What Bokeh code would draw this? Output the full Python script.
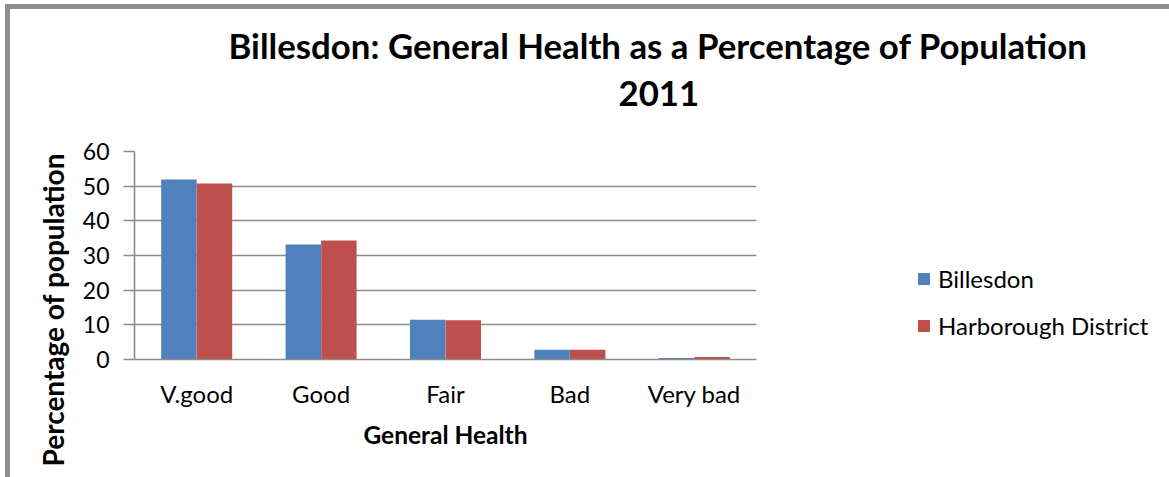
from bokeh.plotting import figure
from bokeh.models import (ColumnDataSource, FactorRange, Legend, LegendItem,
                          SingleIntervalTicker, Title)
from bokeh.transform import dodge
from bokeh.embed import file_html
from bokeh.resources import INLINE

# ---- data ----
categories = ["V.good", "Good", "Fair", "Bad", "Very bad"]
billesdon = [51.9, 33.2, 11.5, 2.8, 0.4]
harborough = [50.8, 34.3, 11.3, 2.8, 0.7]
series_names = ["Billesdon", "Harborough District"]
series_colors = ["#4F81BD", "#C0504D"]
title_line1 = "Billesdon: General Health as a Percentage of Population"
title_line2 = "2011"
x_title = "General Health"
y_title = "Percentage of population"

FONT = "Lato"
GRID = "#8c8c8c"

src = ColumnDataSource(data=dict(cat=categories, b=billesdon, h=harborough))

p = figure(x_range=FactorRange(factors=categories, range_padding=0),
           y_range=(0, 60), frame_width=622, frame_height=208,
           output_backend="svg", toolbar_location=None, tools="",
           min_border_left=124, min_border_top=142, min_border_right=413,
           min_border_bottom=118, title=None)
p.styles = {"border-top": "5px solid #8f8f8f", "border-left": "5px solid #8f8f8f",
            "margin-top": "4px", "margin-left": "5px"}
p.outline_line_color = None
p.background_fill_color = "white"
p.border_fill_color = "white"

r1 = p.vbar(x=dodge("cat", -0.143, range=p.x_range), top="b", width=0.285,
            source=src, fill_color=series_colors[0], line_color=None)
r2 = p.vbar(x=dodge("cat", 0.143, range=p.x_range), top="h", width=0.285,
            source=src, fill_color=series_colors[1], line_color=None)

# grid
p.xgrid.grid_line_color = None
p.ygrid.grid_line_color = GRID
p.ygrid.grid_line_width = 1.6
p.yaxis.ticker = SingleIntervalTicker(interval=10)

# axes
for ax in (p.xaxis, p.yaxis):
    ax.axis_line_color = GRID
    ax.axis_line_width = 1.6
    ax.major_label_text_font = FONT
    ax.major_label_text_color = "black"
    ax.minor_tick_line_color = None
p.yaxis.major_label_text_font_size = "23px"
p.xaxis.major_label_text_font_size = "24px"
p.yaxis.major_tick_line_color = GRID
p.yaxis.major_tick_line_width = 1.6
p.yaxis.major_tick_out = 11
p.yaxis.major_tick_in = 0
p.yaxis.major_label_standoff = 14
p.xaxis.major_tick_line_color = None
p.xaxis.major_tick_out = 0
p.xaxis.major_label_standoff = 19

p.xaxis.axis_label = x_title
p.xaxis.axis_label_text_font = FONT
p.xaxis.axis_label_text_font_style = "bold"
p.xaxis.axis_label_text_font_size = "24.5px"
p.xaxis.axis_label_text_color = "black"
p.xaxis.axis_label_standoff = 9

# title: spacer + two lines (first added is closest to the frame)
p.add_layout(Title(text=" ", text_font_size="1px", standoff=37), "above")
p.add_layout(Title(text=title_line2, align="left", offset=484,
                   text_font=FONT, text_font_style="bold", text_font_size="34.8px",
                   text_color="black", standoff=12), "above")
p.add_layout(Title(text=title_line1, align="left", offset=94,
                   text_font=FONT, text_font_style="bold", text_font_size="34.8px",
                   text_color="black", standoff=14), "above")

# y title as a side title, starting below the frame bottom
p.add_layout(Title(text=y_title, align="left", offset=-107,
                   text_font=FONT, text_font_style="bold", text_font_size="28px",
                   text_color="black", standoff=20), "left")

legend = Legend(items=[LegendItem(label=series_names[0], renderers=[r1]),
                       LegendItem(label=series_names[1], renderers=[r2])],
                location=(160, 19), orientation="vertical",
                glyph_width=15, glyph_height=15, label_height=29, spacing=18,
                padding=0, margin=0, border_line_color=None,
                background_fill_alpha=0, label_text_font=FONT,
                label_text_font_size="24px", label_text_color="black",
                label_standoff=7)
p.add_layout(legend, "right")

open("out.html", "w").write(file_html(p, INLINE))
